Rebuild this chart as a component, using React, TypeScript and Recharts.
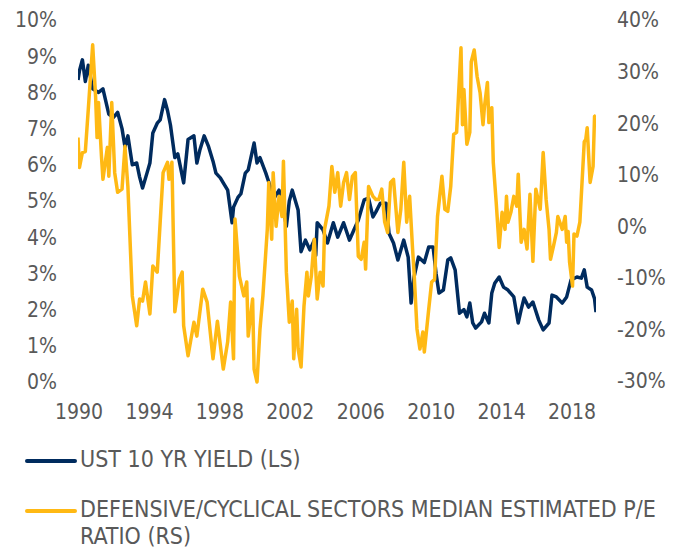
import { LineChart, Line, XAxis, YAxis } from "recharts";

// months since Jan 1990
const ustMonths = [
  0, 1, 3, 5, 7, 10, 14, 17, 21, 24, 27, 30, 32, 34, 37, 40, 42, 44, 47, 49,
  51, 54, 56, 59, 61, 63, 66, 68, 72, 75, 79, 81, 83, 86, 89, 92, 94, 97, 99, 102,
  105, 106, 109, 111, 114, 116, 120, 122, 124, 128, 131, 134, 137, 140, 142, 144, 146, 150, 152, 155,
  158, 161, 162, 163, 167, 170, 174, 177, 181, 185, 188, 191, 195, 198, 201, 203, 206, 210, 212, 215,
  218, 222, 225, 227, 229, 232, 236, 239, 242, 244, 246, 249, 252, 254, 257, 260, 263, 265, 267, 269,
  271, 275, 277, 280, 282, 284, 287, 290, 293, 297, 300, 302, 304, 307, 310, 314, 317, 321, 323, 326,
  330, 333, 336, 340, 343, 345, 347, 350, 352, 353,
];
const ustYield = [
  8.34, 8.6, 8.9, 8.3, 8.75, 8.1, 8.0, 8.1, 7.4, 7.3, 7.45, 7.0, 6.5, 6.8, 6.0, 6.05, 5.66, 5.36, 5.77, 6.05,
  6.88, 7.15, 7.24, 7.8, 7.5, 7.1, 6.2, 6.3, 5.5, 6.7, 6.8, 6.05, 6.4, 6.8, 6.5, 6.1, 5.77, 5.64, 5.5, 5.3,
  4.4, 4.83, 5.1, 5.2, 5.77, 5.86, 6.6, 6.05, 6.2, 5.77, 5.4, 5.1, 5.3, 4.8, 4.3, 5.0, 5.3, 4.75, 3.6, 3.92,
  3.65, 3.92, 3.5, 4.4, 4.2, 3.84, 4.4, 4.0, 4.4, 3.92, 4.2, 4.47, 5.03, 5.08, 4.56, 4.7, 4.94, 4.94, 4.1, 3.84,
  3.37, 3.92, 3.45, 2.18, 2.9, 3.45, 3.3, 3.73, 3.73, 3.0, 2.46, 2.54, 3.37, 3.43, 3.1, 1.9, 2.0, 1.8, 2.18, 1.63,
  1.49, 1.66, 1.9, 1.63, 2.46, 2.73, 2.9, 2.62, 2.54, 2.35, 1.63, 2.0, 2.32, 2.07, 2.21, 1.71, 1.44, 1.63, 2.4, 2.35,
  2.18, 2.35, 2.82, 2.9, 2.87, 3.1, 2.62, 2.54, 2.3, 1.93,
];

const peMonths = [
  0, 1, 3, 5, 7, 10, 12, 13, 14, 16, 17, 20, 21, 23, 25, 27, 30, 32, 34, 37,
  40, 42, 44, 46, 49, 51, 54, 56, 58, 61, 62, 64, 66, 69, 71, 72, 75, 79, 81, 85,
  88, 92, 95, 99, 102, 104, 106, 107, 110, 113, 115, 116, 119, 120, 122, 124, 126, 129, 130, 132,
  133, 135, 137, 139, 140, 142, 144, 146, 147, 149, 150, 152, 154, 156, 157, 159, 161, 163, 165, 167,
  168, 171, 173, 175, 177, 179, 181, 183, 185, 187, 189, 191, 193, 195, 196, 198, 201, 203, 205, 207,
  209, 211, 213, 215, 218, 220, 222, 224, 226, 228, 229, 231, 233, 235, 236, 239, 241, 243, 245, 248,
  250, 252, 254, 256, 258, 261, 262, 263, 265, 267, 268, 270, 272, 274, 276, 277, 279, 280, 282, 283,
  285, 287, 289, 291, 292, 293, 295, 297, 299, 300, 302, 304, 306, 308, 310, 312, 315, 317, 319, 321,
  322, 324, 326, 327, 330, 332, 333, 334, 335, 337, 338, 340, 342, 345, 346, 347, 349, 351, 352, 353,
];
const peRatio = [
  17.2, 11.4, 14.3, 14.5, 22.6, 35.2, 25.1, 17.2, 24.0, 13.5, 9.1, 15.3, 9.7, 24.0, 10.4, 6.6, 7.2, 15.5, 7.7, -13.5,
  -19.3, -14.1, -14.5, -10.8, -17.0, -7.7, -8.9, 0.8, 10.4, 12.4, 9.1, 12.4, -16.6, -10.3, -8.9, -19.3, -25.1, -18.6, -21.3, -12.2,
  -14.7, -25.7, -18.4, -27.7, -22.4, -14.7, -25.7, 1.4, -9.7, -13.5, -10.8, -21.3, -14.1, -27.7, -30.2, -20.0, -13.5, -0.6, 8.5, -2.5,
  10.4, 0.0, 5.8, 1.9, 12.6, -8.9, -18.6, -14.5, -25.7, -16.1, -23.8, -27.3, -15.5, -8.9, -13.5, -9.7, -2.5, -14.1, -8.9, -11.6,
  -0.6, 3.9, 11.6, 6.6, 10.4, 3.9, 8.5, 10.4, 5.2, 9.7, 10.4, -5.8, -6.4, -3.1, -8.3, 7.7, 5.8, 5.2, 5.2, 7.2,
  0.8, -1.2, 8.5, 9.1, -1.2, 3.3, 12.4, 0.8, 5.8, -4.4, -8.9, -19.9, -23.8, -20.5, -24.4, -16.1, -10.8, -10.3, 1.9, 9.7,
  3.3, 2.9, 7.7, 17.8, 18.2, 34.6, 19.7, 26.5, 15.9, 18.2, 31.9, 34.2, 29.0, 25.9, 19.7, 23.2, 27.9, 20.1, 23.0, 12.4,
  4.6, -4.1, 2.7, -0.6, 5.8, 0.8, 2.7, 5.8, 3.9, 10.1, -3.1, -0.6, -4.4, 6.2, -6.8, 7.2, 3.3, 14.3, 5.2, -0.6,
  -6.4, -3.9, -1.2, 1.9, -0.6, 1.9, -3.1, -1.0, -7.0, -11.6, -1.5, -1.9, 0.8, 16.4, 16.8, 19.1, 8.5, 11.6, 21.3, 21.5,
];

const xTicks = [0, 48, 96, 144, 192, 240, 288, 336];
const leftTicks = [0, 1, 2, 3, 4, 5, 6, 7, 8, 9, 10];
const rightTicks = [-30, -20, -10, 0, 10, 20, 30, 40];

const NAVY = "#002b5e";
const GOLD = "#ffb914";
const TEXT = "#595959";
const FONT = "'Liberation Sans Narrow', 'DejaVu Sans Condensed', sans-serif";

const ustData = ustMonths.map((m, i) => ({ m, v: ustYield[i] }));
const peData = peMonths.map((m, i) => ({ m, v: peRatio[i] }));

const legendItems = [
  { color: NAVY, label: ["UST 10 YR YIELD (LS)"] },
  { color: GOLD, label: ["DEFENSIVE/CYCLICAL SECTORS MEDIAN ESTIMATED P/E", "RATIO (RS)"] },
];

export default function App() {
  return (
    <div
      style={{
        position: "absolute",
        left: 0,
        top: 0,
        width: 684,
        height: 548,
        background: "#fff",
        fontFamily: FONT,
      }}
    >
      <LineChart
        width={684}
        height={430}
        margin={{ top: 20, right: 0, bottom: 8, left: 0 }}
      >
        <XAxis
          type="number"
          dataKey="m"
          domain={[0, 353]}
          ticks={xTicks}
          tickFormatter={(m: number) => String(1990 + m / 12)}
          axisLine={false}
          tickLine={false}
          tickMargin={16}
          height={40}
          tick={{ fill: TEXT, fontSize: 21, dx: 1 }}
          allowDataOverflow
        />
        <YAxis
          yAxisId="left"
          domain={[0, 10]}
          ticks={leftTicks}
          tickFormatter={(v: number) => `${v}%`}
          axisLine={false}
          tickLine={false}
          tickMargin={15}
          width={78}
          tick={{ fill: TEXT, fontSize: 21 }}
        />
        <YAxis
          yAxisId="right"
          orientation="right"
          domain={[-30, 40]}
          ticks={rightTicks}
          tickFormatter={(v: number) => `${v}%`}
          axisLine={false}
          tickLine={false}
          tickMargin={15}
          width={88}
          tick={{ fill: TEXT, fontSize: 21, textAnchor: "start" }}
        />
        <Line
          yAxisId="left"
          data={ustData}
          dataKey="v"
          stroke={NAVY}
          strokeWidth={3.5}
          dot={false}
          isAnimationActive={false}
          strokeLinejoin="round"
        />
        <Line
          yAxisId="right"
          data={peData}
          dataKey="v"
          stroke={GOLD}
          strokeWidth={3.5}
          dot={false}
          isAnimationActive={false}
          strokeLinejoin="round"
        />
      </LineChart>
      {legendItems.map((item, i) => (
        <div
          key={i}
          style={{
            position: "absolute",
            left: 25,
            top: 446 + i * 50,
            display: "flex",
            alignItems: "flex-start",
            color: TEXT,
            fontSize: 23,
            lineHeight: "27px",
          }}
        >
          <span
            style={{
              display: "inline-block",
              width: 52,
              height: 4,
              background: item.color,
              marginTop: 13,
              marginRight: 3,
              borderRadius: 2,
            }}
          />
          <span>
            {item.label.map((l, j) => (
              <div key={j}>{l}</div>
            ))}
          </span>
        </div>
      ))}
    </div>
  );
}
